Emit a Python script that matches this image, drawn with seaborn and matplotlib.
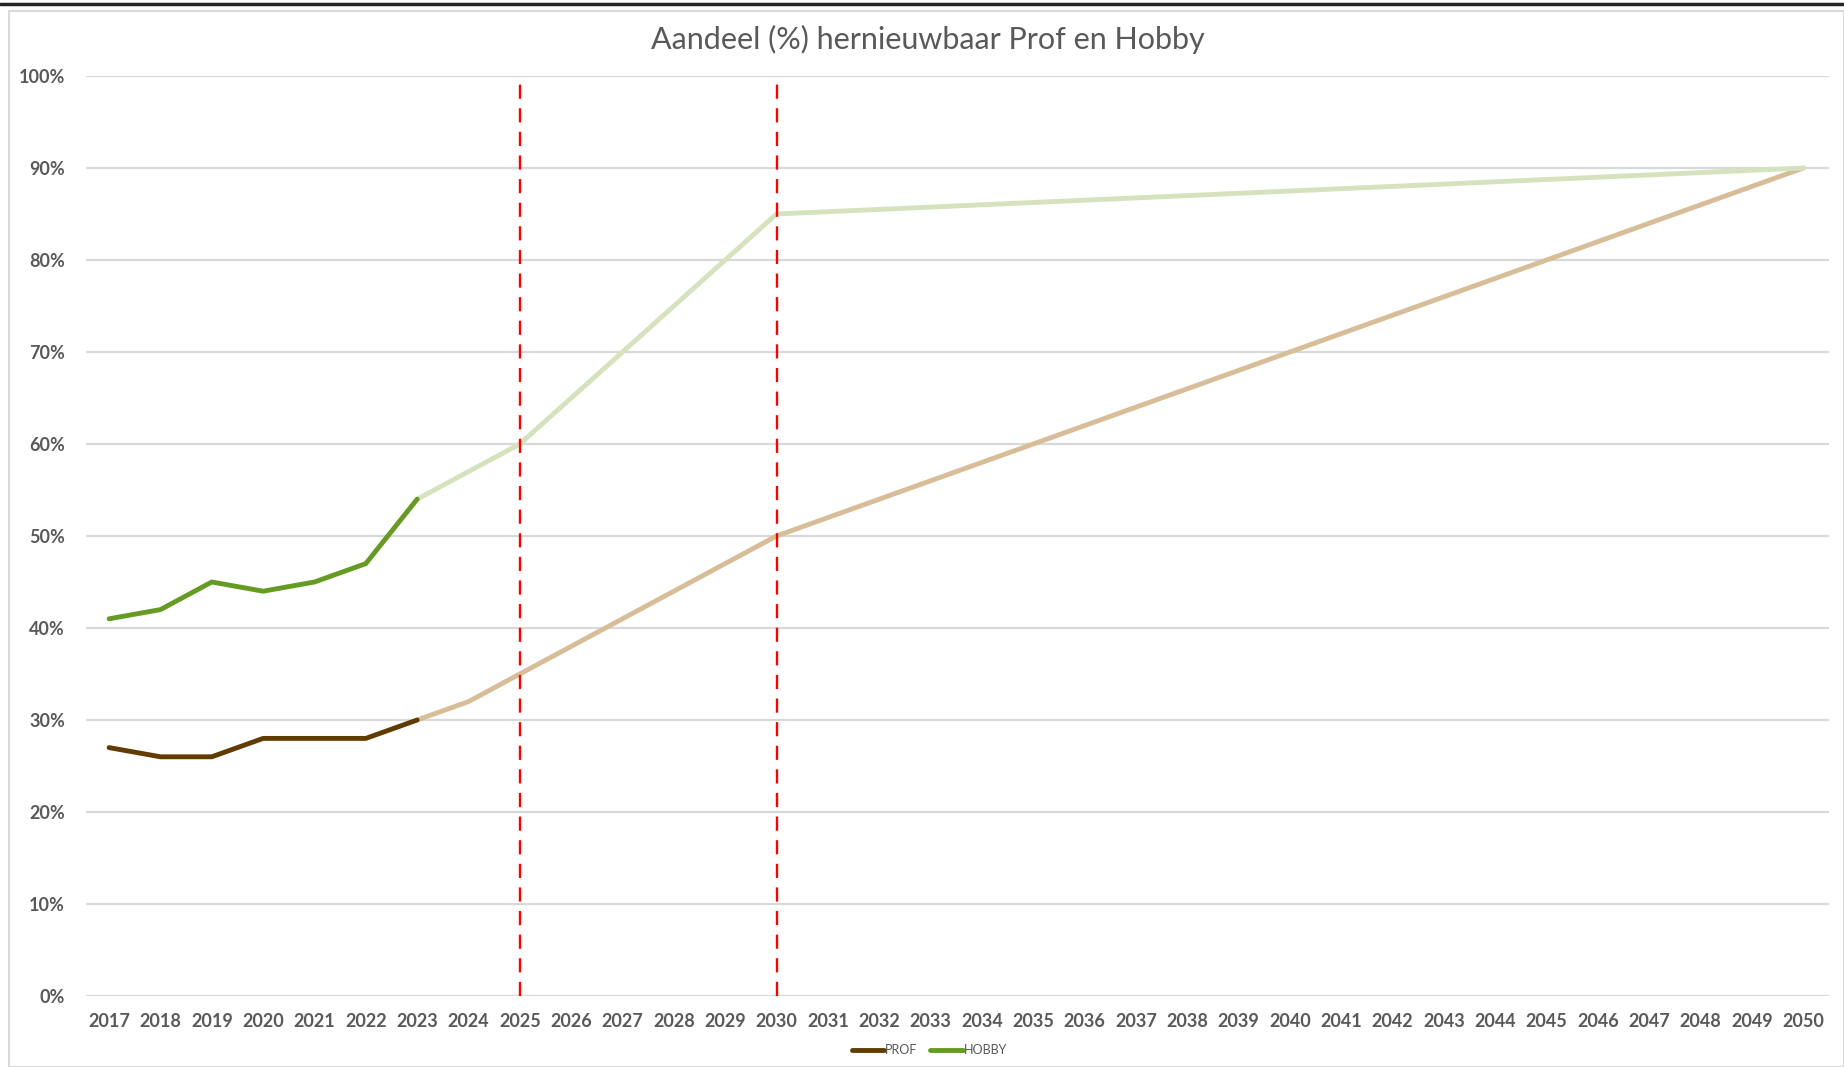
import matplotlib
matplotlib.use("Agg")
import matplotlib.pyplot as plt
import seaborn as sns
import pandas as pd
from matplotlib.lines import Line2D
from matplotlib.patches import Rectangle
from matplotlib.ticker import PercentFormatter

# ---- data ----
years_hist = [2017, 2018, 2019, 2020, 2021, 2022, 2023]
prof_hist = [27, 26, 26, 28, 28, 28, 30]
hobby_hist = [41, 42, 45, 44, 45, 47, 54]

years_proj = list(range(2023, 2051))
prof_proj = [30, 32, 35, 38, 41, 44, 47, 50, 52, 54, 56, 58, 60, 62, 64, 66,
             68, 70, 72, 74, 76, 78, 80, 82, 84, 86, 88, 90]
hobby_proj = [54, 57, 60, 65, 70, 75, 80, 85, 85.25, 85.5, 85.75, 86, 86.25,
              86.5, 86.75, 87, 87.25, 87.5, 87.75, 88, 88.25, 88.5, 88.75, 89,
              89.25, 89.5, 89.75, 90]

marker_years = [2025, 2030]
all_years = list(range(2017, 2051))
title = "Aandeel (%) hernieuwbaar Prof en Hobby"
series_names = ["PROF", "HOBBY"]

# ---- style ----
sns.set_theme(style="white")
plt.rcParams["font.family"] = ["Lato", "DejaVu Sans"]

C_PROF = "#613B00"
C_HOBBY = "#659A23"
C_PROF_L = "#D7BD98"
C_HOBBY_L = "#D5E2BE"
TXT = "#595959"
GRID = "#D9D9D9"

fig = plt.figure(figsize=(18.44, 10.67), dpi=100)
ax = fig.add_axes([86 / 1844, 1 - 996 / 1067, (1829 - 86) / 1844, (996 - 76) / 1067])

# gridlines
for v in range(0, 101, 10):
    ax.axhline(v, color=GRID, lw=1.6, zorder=0)

df_pp = pd.DataFrame({"year": years_proj, "v": prof_proj})
df_hp = pd.DataFrame({"year": years_proj, "v": hobby_proj})
df_ph = pd.DataFrame({"year": years_hist, "v": prof_hist})
df_hh = pd.DataFrame({"year": years_hist, "v": hobby_hist})

LW = 3.5
sns.lineplot(data=df_pp, x="year", y="v", color=C_PROF_L, lw=LW, ax=ax, zorder=2)
sns.lineplot(data=df_hp, x="year", y="v", color=C_HOBBY_L, lw=LW, ax=ax, zorder=2)
sns.lineplot(data=df_ph, x="year", y="v", color=C_PROF, lw=LW, ax=ax, zorder=3)
sns.lineplot(data=df_hh, x="year", y="v", color=C_HOBBY, lw=LW, ax=ax, zorder=3)

for yr, top in zip(marker_years, [99.5, 100.3]):
    ax.plot([yr, yr], [0, top], color="#FF0000", lw=1.7, ls=(0, (6, 4)), zorder=4)

ax.set_xlim(2016.55, 2050.5)
ax.set_ylim(0, 100)
ax.set_xticks(all_years)
ax.set_xticklabels([str(y) for y in all_years])
ax.set_yticks(range(0, 101, 10))
ax.yaxis.set_major_formatter(PercentFormatter(decimals=0))
ax.tick_params(axis="both", length=0, labelsize=13, labelcolor=TXT)
ax.tick_params(axis="x", pad=12)
ax.tick_params(axis="y", pad=15)
for lab in ax.get_xticklabels() + ax.get_yticklabels():
    lab.set_fontweight("bold")
ax.set_xlabel("")
ax.set_ylabel("")
for s in ax.spines.values():
    s.set_visible(False)
ax.set_facecolor("none")

fig.text(0.503, 1 - 39 / 1067, title, ha="center", va="center",
         fontsize=22, color=TXT)

handles = [Line2D([], [], color=C_PROF, lw=LW), Line2D([], [], color=C_HOBBY, lw=LW)]
fig.legend(handles, series_names, loc="center", bbox_to_anchor=(0.504, 1 - 1050 / 1067),
           ncol=2, frameon=False, fontsize=9, labelcolor=TXT, handlelength=2.6,
           handletextpad=0.1, columnspacing=1.0)

# outer frame and top bar
fig.patches.append(Rectangle((9 / 1844, 0.0), 1 - 9 / 1844, 1 - 11 / 1067,
                             transform=fig.transFigure, fill=False,
                             edgecolor="#D9D9D9", lw=1.5, zorder=0))
fig.lines.append(Line2D([0, 1], [1 - 4 / 1067, 1 - 4 / 1067], transform=fig.transFigure,
                        color="#262626", lw=2.5))

fig.savefig("out.png", dpi=100)
